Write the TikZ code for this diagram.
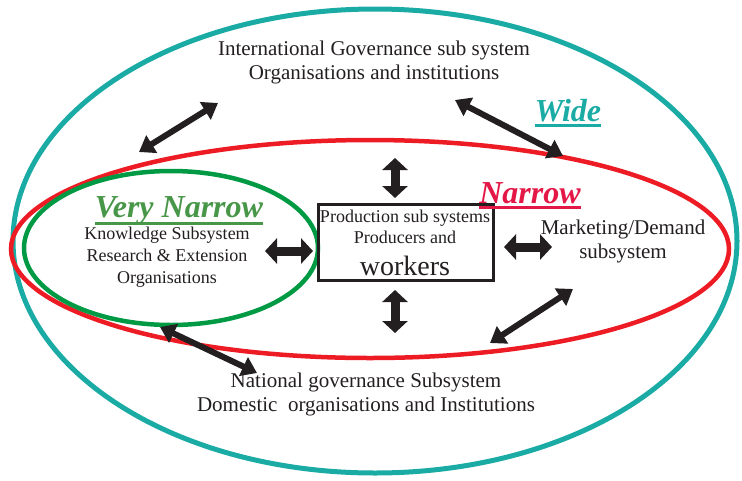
\documentclass[tikz,border=0pt]{standalone}
\usepackage{fontspec}
\setmainfont{Liberation Serif}
\usetikzlibrary{arrows.meta}
\definecolor{wideteal}{RGB}{26,171,165}
\definecolor{narrowred}{RGB}{237,28,36}
\definecolor{vngreen}{RGB}{0,154,68}
\definecolor{vntext}{RGB}{72,150,72}
\definecolor{nartext}{RGB}{228,24,70}
\definecolor{inkblack}{RGB}{35,31,32}
\tikzset{
  >={Triangle[length=15pt,width=20pt]},
}
\tikzstyle{ring}=[line width=4.5pt]
\tikzstyle{link}=[<->,line width=6pt,inkblack]
\tikzstyle{fatlink}=[{Triangle[length=12pt,width=25pt]}-{Triangle[length=12pt,width=25pt]},line width=9pt,inkblack]
\tikzstyle{subsys}=[align=center,text=inkblack,font=\fontsize{21}{24}\selectfont]
\tikzstyle{boxline}=[anchor=base,inner sep=0pt,text=inkblack,font=\fontsize{18}{22}\selectfont]
\tikzstyle{heading}=[anchor=base,inner sep=0pt,font=\fontsize{32}{36}\selectfont\bfseries\itshape]
\tikzstyle{bar}=[line width=3pt]

\begin{document}
\begin{tikzpicture}[x=1pt,y=-1pt]
  \useasboundingbox (0,0) rectangle (742,480);
  % wide, narrow and very narrow system boundaries
  \draw[ring,wideteal,line width=5pt] (375,241) ellipse [x radius=362pt,y radius=232pt];
  \draw[ring,narrowred] (370,249) ellipse [x radius=359pt,y radius=109pt];
  \draw[ring,vngreen] (171,248) ellipse [x radius=147pt,y radius=77pt];

  \node[subsys] (intl) at (374,62) {International Governance sub system\\Organisations and institutions};
  \node[subsys] (natl) at (366,394) {National governance Subsystem\\Domestic~ organisations and Institutions};
  \node[subsys] (mkt) at (623,241) {Marketing/Demand\\subsystem};
  \node[subsys,font=\fontsize{18}{22}\selectfont] (know) at (167,257) {Knowledge Subsystem\\Research \& Extension\\Organisations};

  % production box
  \node[draw=inkblack,line width=3pt,minimum width=175pt,minimum height=76pt] (prod) at (405.5,242) {};
  \node[boxline] (prodA) at (405,222) {Production sub systems};
  \node[boxline] (prodB) at (405,243) {Producers and};
  \node[boxline,font=\fontsize{28}{30}\selectfont] (prodC) at (405,275) {workers};

  % scope labels
  \node[heading,vntext] (vn) at (179,217) {Very Narrow};
  \node[heading,nartext] (nar) at (530,203) {Narrow};
  \node[heading,wideteal] (wide) at (568,121) {Wide};
  \draw[bar,vntext] ([yshift=-6pt]vn.base west) -- ([yshift=-6pt]vn.base east);
  \draw[bar,nartext] ([yshift=-4pt]nar.base west) -- ([yshift=-4pt]nar.base east);
  \draw[bar,wideteal] ([yshift=-4pt]wide.base west) -- ([yshift=-4pt]wide.base east);

  % arrow ends
  \coordinate (intlW) at (218,103);
  \coordinate (redW) at (139,152);
  \coordinate (intlE) at (455,100);
  \coordinate (redE) at (563,156);
  \coordinate (natlW) at (257,373);
  \coordinate (greenS) at (160,327);
  \coordinate (natlE) at (490,343);
  \coordinate (mktS) at (573,289);
  \coordinate (prodN) at (395,198);
  \coordinate (redN) at (395,158);
  \coordinate (prodS) at (395,290);
  \coordinate (natlN) at (395,333);
  \coordinate (knowE) at (265,251);
  \coordinate (prodW) at (313,251);
  \coordinate (prodE) at (504,247);
  \coordinate (mktW) at (552,247);

  \draw[link] (redW) -- (intlW);
  \draw[link] (intlE) -- (redE);
  \draw[link] (greenS) -- (natlW);
  \draw[link] (natlE) -- (mktS);
  \draw[fatlink] (redN) -- (prodN);
  \draw[fatlink] (prodS) -- (natlN);
  \draw[fatlink] (knowE) -- (prodW);
  \draw[fatlink] (prodE) -- (mktW);
\end{tikzpicture}
\end{document}
